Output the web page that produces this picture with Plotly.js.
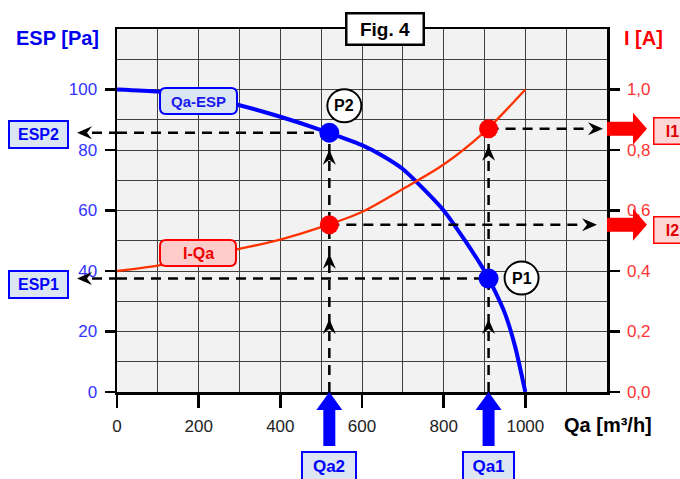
<!DOCTYPE html>
<html>
<head>
<meta charset="utf-8">
<script src="https://cdn.plot.ly/plotly-3.0.1.min.js"></script>
<style>html,body{margin:0;padding:0;background:#fff;}#chart{width:680px;height:479px;}</style>
</head>
<body>
<div id="chart"></div>
<script>
// ---- data ----
const espQa = [0, 100, 200, 300, 400, 500, 600, 650, 700, 750, 800, 850, 900, 925, 950, 975, 1000];
const espPa = [100, 99.3, 97.8, 94.8, 91, 86.6, 81.6, 78.1, 73.7, 67.2, 60, 50.5, 40, 33.5, 26, 15, 0];
const iQa = [0, 100, 200, 300, 400, 500, 600, 700, 800, 900, 1000];
const iA = [0.40, 0.418, 0.443, 0.473, 0.504, 0.545, 0.595, 0.671, 0.752, 0.86, 1.0];
const opNames = ['P1', 'P2'];
const opQaLabels = ['Qa1', 'Qa2'];
const opEspLabels = ['ESP1', 'ESP2'];
const opILabels = ['I1', 'I2'];
const opQa = [910, 520];
const opEsp = [37.5, 85.7];
const opI = [0.87, 0.553];
const xTicks = [0, 200, 400, 600, 800, 1000];
const yTicks = [0, 20, 40, 60, 80, 100];
const y2Ticks = [0, 0.2, 0.4, 0.6, 0.8, 1.0];
const XMAX = 1200, YMAX = 120, Y2MAX = 1.2;

// ---- layout geometry ----
const M = {l: 117, r: 73, t: 29, b: 87};
const PW = 680 - M.l - M.r, PH = 479 - M.t - M.b;
const BOTTOM = M.t + PH;
const FONT = 'Liberation Sans, Arial, sans-serif';
const BLUE = '#0000ff', RED = '#ff0000';
const dash = {color: '#000', width: 2.5, dash: '10px,7px'};

// pixel (screen) -> paper helpers for decorations
const pxX = X => (X - M.l) / PW;
const pxY = Y => (BOTTOM - Y) / PH;
// data x at given pixel gap from right edge
const xFromRightGap = g => XMAX - g * XMAX / PW;

const traces = [];
// dashed guide lines (drawn first, under markers)
for (let k = 0; k < 2; k++) {
  traces.push({x: [0, opQa[k]], y: [opEsp[k], opEsp[k]], mode: 'lines', line: dash, hoverinfo: 'skip'});
}
traces.push({x: [opQa[1], opQa[1]], y: [0, opEsp[1]], mode: 'lines', line: dash, hoverinfo: 'skip'});
traces.push({x: [opQa[0], opQa[0]], y: [0, opI[0] * YMAX / Y2MAX], mode: 'lines', line: dash, hoverinfo: 'skip'});
// ESP curve
traces.push({x: espQa, y: espPa, mode: 'lines', line: {color: BLUE, width: 4, shape: 'spline', smoothing: 0.6}, hoverinfo: 'skip'});
traces.push({x: opQa, y: opEsp, mode: 'markers', marker: {color: BLUE, size: 20}, hoverinfo: 'skip'});
// I horizontals (y2)
const rightGaps = [17, 23];
for (let k = 0; k < 2; k++) {
  traces.push({x: [opQa[k], xFromRightGap(rightGaps[k])], y: [opI[k], opI[k]], yaxis: 'y2', mode: 'lines', line: dash, hoverinfo: 'skip'});
}
// I curve
traces.push({x: iQa, y: iA, yaxis: 'y2', mode: 'lines', line: {color: '#ff3300', width: 2.3, shape: 'spline', smoothing: 0.8}, hoverinfo: 'skip'});
traces.push({x: opQa, y: opI, yaxis: 'y2', mode: 'markers', marker: {color: RED, size: 19}, hoverinfo: 'skip'});

// ---- shapes ----
const shapes = [];
function pathShape(path, opts) {
  return Object.assign({type: 'path', path: path, xsizemode: 'pixel', ysizemode: 'pixel', layer: 'above'}, opts);
}
function upHead(t) { return `M0,${t} L6.5,${t - 15} L0,${t - 10} L-6.5,${t - 15} Z`; }
function leftHead(t) { return `M${t},0 L${t + 15},6.5 L${t + 10},0 L${t + 15},-6.5 Z`; }
function rightHead(t) { return `M${t},0 L${t - 15},6.5 L${t - 10},0 L${t - 15},-6.5 Z`; }
const blackFill = {fillcolor: '#000', line: {width: 0}};

for (let k = 0; k < 2; k++) {
  shapes.push({type: 'line', xref: 'paper', yref: 'y', x0: pxX(M.l - 25), x1: 0, y0: opEsp[k], y1: opEsp[k], line: dash, layer: 'above'});
  shapes.push(pathShape(leftHead(-40), Object.assign({xref: 'paper', xanchor: 0, yref: 'y', yanchor: opEsp[k]}, blackFill)));
}
const rightTips = [-4, -10];
for (let k = 0; k < 2; k++) {
  shapes.push(pathShape(rightHead(rightTips[k]), Object.assign({xref: 'paper', xanchor: 1, yref: 'y2', yanchor: opI[k]}, blackFill)));
}
shapes.push(pathShape(upHead(-17), Object.assign({xref: 'x', xanchor: opQa[1], yref: 'y', yanchor: opEsp[1]}, blackFill)));
shapes.push(pathShape(upHead(-29), Object.assign({xref: 'x', xanchor: opQa[1], yref: 'y2', yanchor: opI[1]}, blackFill)));
shapes.push(pathShape(upHead(-17), Object.assign({xref: 'x', xanchor: opQa[0], yref: 'y2', yanchor: opI[0]}, blackFill)));
for (let k = 0; k < 2; k++) {
  shapes.push(pathShape(upHead(73), Object.assign({xref: 'x', xanchor: opQa[k], yref: 'paper', yanchor: 0}, blackFill)));
}
for (let k = 0; k < 2; k++) {
  shapes.push(pathShape('M0,0 L13,-18 L6,-18 L6,-54 L-6,-54 L-6,-18 L-13,-18 Z',
    {xref: 'x', xanchor: opQa[k], yref: 'paper', yanchor: 0, fillcolor: BLUE, line: {width: 0}}));
}
for (let k = 0; k < 2; k++) {
  shapes.push(pathShape('M0,7 L26,7 L26,16 L40,0 L26,-16 L26,-7 L0,-7 Z',
    {xref: 'paper', xanchor: 1, yref: 'y2', yanchor: opI[k], fillcolor: RED, line: {width: 0}}));
}
const pOff = [[33, 0.5], [15, 27]];
for (let k = 0; k < 2; k++) {
  const [dx, dy] = pOff[k];
  shapes.push({type: 'circle', xref: 'x', yref: 'y', xsizemode: 'pixel', ysizemode: 'pixel',
    xanchor: opQa[k], yanchor: opEsp[k], x0: dx - 17, x1: dx + 17, y0: dy - 16.5, y1: dy + 16.5,
    fillcolor: '#fff', line: {color: '#000', width: 2}, layer: 'above'});
}
function rrect(X0, Y0, X1, Y1, r) {
  const a = X0 - M.l, b = X1 - M.l, top = BOTTOM - Y0, bot = BOTTOM - Y1;
  return `M${a + r},${top} L${b - r},${top} Q${b},${top} ${b},${top - r} L${b},${bot + r} Q${b},${bot} ${b - r},${bot} ` +
         `L${a + r},${bot} Q${a},${bot} ${a},${bot + r} L${a},${top - r} Q${a},${top} ${a + r},${top} Z`;
}
shapes.push(pathShape(rrect(160, 88, 237, 114, 6), {xref: 'paper', xanchor: 0, yref: 'paper', yanchor: 0, fillcolor: '#dce6f2', line: {color: BLUE, width: 2}}));
shapes.push(pathShape(rrect(160, 240, 236, 266, 6), {xref: 'paper', xanchor: 0, yref: 'paper', yanchor: 0, fillcolor: '#ffcccc', line: {color: RED, width: 2}}));

// ---- annotations ----
const ann = [];
const bold = (size, color) => ({family: FONT, size: size, color: color, weight: 'bold'});
function A(o) { return Object.assign({showarrow: false, xanchor: 'center', yanchor: 'middle'}, o); }
ann.push(A({xref: 'paper', yref: 'paper', x: pxX(385), y: pxY(28.5), text: '<b>Fig. 4</b>',
  font: bold(19, '#000'), bgcolor: '#fff', bordercolor: '#000', borderwidth: 2.5, borderpad: 0, width: 75, height: 29}));
ann.push(A({xref: 'paper', yref: 'paper', x: pxX(57.5), y: pxY(38), text: '<b>ESP [Pa]</b>', font: bold(20, '#0000ee')}));
ann.push(A({xref: 'paper', yref: 'paper', x: pxX(643), y: pxY(38), text: '<b>I [A]</b>', font: bold(20, RED)}));
ann.push(A({xref: 'paper', yref: 'paper', x: pxX(608), y: pxY(425), text: '<b>Qa [m³/h]</b>', font: bold(20, '#000')}));
ann.push(A({xref: 'paper', yref: 'paper', x: pxX(198.5), y: pxY(101), text: '<b>Qa-ESP</b>', font: bold(15, '#1a1aee')}));
ann.push(A({xref: 'paper', yref: 'paper', x: pxX(198), y: pxY(253), text: '<b>I-Qa</b>', font: bold(16, '#ee0000')}));
const espShift = [-6, -2];
const qaBoxW = [49, 52];
const iShift = [-2, -5];
for (let k = 0; k < 2; k++) {
  ann.push(A({xref: 'x', yref: 'y', x: opQa[k], y: opEsp[k], xshift: pOff[k][0], yshift: pOff[k][1],
    text: '<b>' + opNames[k] + '</b>', font: bold(16, '#000')}));
  ann.push(A({xref: 'paper', yref: 'y', x: pxX(38), y: opEsp[k], yshift: espShift[k], text: '<b>' + opEspLabels[k] + '</b>',
    font: bold(16, BLUE), bgcolor: '#dce6f2', bordercolor: BLUE, borderwidth: 2, borderpad: 0, width: 57, height: 25}));
  ann.push(A({xref: 'x', yref: 'paper', x: opQa[k], y: pxY(466), text: '<b>' + opQaLabels[k] + '</b>',
    font: bold(17, BLUE), bgcolor: '#dce6f2', bordercolor: BLUE, borderwidth: 2, borderpad: 0, width: qaBoxW[k], height: 26}));
  ann.push(A({xref: 'paper', yref: 'y2', x: pxX(672), y: opI[k], yshift: iShift[k], text: '<b>' + opILabels[k] + '</b>',
    font: bold(16, '#e00000'), bgcolor: '#ffd6d6', bordercolor: RED, borderwidth: 1.5, borderpad: 0, width: 36, height: 25}));
}

const gridColor = '#404040';
const layout = {
  width: 680, height: 479,
  margin: {l: M.l, r: M.r, t: M.t, b: M.b, pad: 0},
  paper_bgcolor: '#fff', plot_bgcolor: '#f2f2f2',
  showlegend: false, separators: ',.',
  font: {family: FONT},
  xaxis: {
    range: [0, XMAX], tickmode: 'array', tickvals: xTicks, ticks: 'outside', ticklen: 13, tickwidth: 2.5, tickcolor: '#000',
    showline: true, linecolor: '#000', linewidth: 2.5, mirror: true, zeroline: false,
    showgrid: true, gridcolor: gridColor, gridwidth: 1,
    minor: {tickmode: 'linear', tick0: 0, dtick: 100, showgrid: true, gridcolor: gridColor, gridwidth: 1, ticks: ''},
    tickfont: {family: FONT, size: 17, color: '#222'}, ticklabelstandoff: 4, fixedrange: true
  },
  yaxis: {
    range: [0, YMAX], tickmode: 'array', tickvals: yTicks, ticks: 'outside', ticklen: 10, tickwidth: 2.5, tickcolor: '#000',
    showline: true, linecolor: '#000', linewidth: 2.5, zeroline: false,
    showgrid: true, gridcolor: gridColor, gridwidth: 1,
    minor: {tickmode: 'linear', tick0: 0, dtick: 10, showgrid: true, gridcolor: gridColor, gridwidth: 1, ticks: ''},
    tickfont: {family: FONT, size: 17, color: '#3333ff'}, ticklabelstandoff: 4, fixedrange: true
  },
  yaxis2: {
    overlaying: 'y', side: 'right', range: [0, Y2MAX], tickmode: 'array', tickvals: y2Ticks, tickformat: '.1f',
    ticks: 'outside', ticklen: 10, tickwidth: 2.5, tickcolor: '#000',
    showline: true, linecolor: '#000', linewidth: 2.5, zeroline: false, showgrid: false,
    tickfont: {family: FONT, size: 17, color: '#ff3333'}, ticklabelstandoff: 4, fixedrange: true
  },
  shapes: shapes,
  annotations: ann
};
Plotly.newPlot('chart', traces, layout, {displayModeBar: false, staticPlot: true});
</script>
</body>
</html>
